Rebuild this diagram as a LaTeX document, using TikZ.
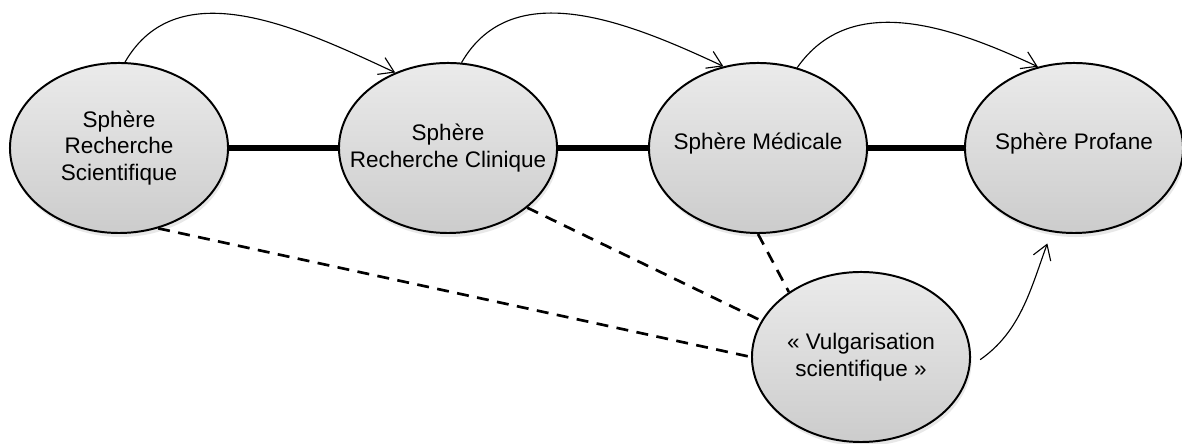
\documentclass[tikz,border=0pt]{standalone}
\usepackage{fontspec}
\setsansfont{Liberation Sans}
\usetikzlibrary{shapes.geometric, arrows.meta, shadows}

\newcommand{\sphfont}{\fontsize{16}{19}\selectfont}

\begin{document}
\begin{tikzpicture}[x=0.025cm, y=0.025cm,
  sphere/.style={ellipse, draw, line width=1.4pt,
    minimum width=5.45cm, minimum height=4.25cm,
    top color=gray!16, bottom color=gray!40,
    drop shadow={opacity=0.18, shadow xshift=0.4mm, shadow yshift=-1mm}},
  every label/.style={align=center, font=\sffamily\sphfont},
  link/.style={line width=4.2pt},
  dashlink/.style={line width=1.9pt, dash pattern=on 8.5pt off 6pt},
  flow/.style={-{Straight Barb[length=3.6mm, width=4.6mm]}, line width=0.8pt}]\sffamily
  \useasboundingbox (0, 0) rectangle (1182, 444);

  \node[sphere, label={center:Sphère\\Recherche\\Scientifique}]
    (RS) at (119, 296) {};

  \node[sphere, label={center:Sphère\\Recherche Clinique}]
    (RC) at (448, 296) {};

  \node[sphere, label={[yshift=1mm]center:Sphère Médicale}]
    (SM) at (758, 296) {};

  \node[sphere, label={[yshift=1mm]center:Sphère Profane}]
    (SP) at (1074, 296) {};

  \node[sphere, label={center:« Vulgarisation\\scientifique »}]
    (VS) at (861, 87) {};

  % liens entre les spheres
  \draw[link] (RS.east) -- (RC.west);
  \draw[link] (RC.east) -- (SM.west);
  \draw[link] (SM.east) -- (SP.west);

  % vulgarisation
  \draw[dashlink] (RS.-64) -- (VS.180);
  \draw[dashlink] (RC.-37) -- (VS.160);
  \draw[dashlink] (SM.-90) -- (VS.138);

  % transferts
  \draw[flow] (RS.86) to[out=60, in=155] (RC.125);
  \draw[flow] (RC.81) to[out=60, in=155] (SM.113);
  \draw[flow] (SM.64) to[out=55, in=155] (SP.114);
  \draw[flow, shorten <=0.3cm, shorten >=0.3cm] (VS.-5) to[out=35, in=250] (SP.255);

\end{tikzpicture}
\end{document}
